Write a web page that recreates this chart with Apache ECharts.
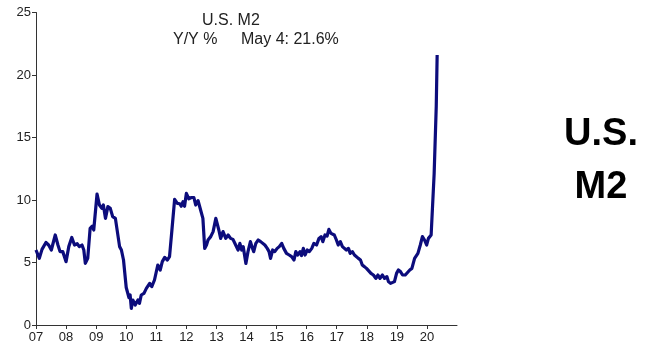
<!DOCTYPE html>
<html>
<head>
<meta charset="utf-8">
<script src="https://cdn.jsdelivr.net/npm/echarts@6/dist/echarts.min.js"></script>
<style>
html,body{margin:0;padding:0;background:#fff;}
#c{width:658px;height:360px;}
</style>
</head>
<body>
<div id="c"></div>
<script>
// Decimal-year dates and M2 Y/Y % values
var years = [
2007.00,2007.11,2007.20,2007.33,2007.42,2007.51,2007.64,2007.73,2007.80,2007.89,
2008.00,2008.09,2008.19,2008.28,2008.37,2008.44,2008.53,2008.59,2008.64,2008.72,2008.80,2008.87,2008.92,
2009.03,2009.11,2009.19,2009.24,2009.31,2009.39,2009.47,2009.55,2009.64,2009.70,2009.78,2009.84,2009.91,
2010.00,2010.09,2010.13,2010.17,2010.22,2010.30,2010.39,2010.44,2010.50,2010.59,2010.67,2010.78,2010.85,2010.94,
2011.05,2011.13,2011.20,2011.28,2011.37,2011.44,2011.52,2011.61,2011.70,2011.78,2011.83,2011.89,2011.94,
2012.00,2012.08,2012.17,2012.25,2012.31,2012.39,2012.44,2012.55,2012.61,2012.67,2012.72,2012.81,2012.89,2012.93,2012.98,
2013.08,2013.14,2013.22,2013.31,2013.39,2013.47,2013.55,2013.64,2013.72,2013.78,2013.84,2013.89,2013.98,
2014.05,2014.13,2014.20,2014.24,2014.31,2014.39,2014.47,2014.53,2014.61,2014.69,2014.75,2014.80,2014.87,2014.94,
2015.02,2015.09,2015.17,2015.24,2015.33,2015.42,2015.50,2015.58,2015.64,2015.70,2015.78,2015.83,2015.89,2015.95,
2016.02,2016.09,2016.17,2016.24,2016.33,2016.41,2016.48,2016.54,2016.61,2016.68,2016.74,2016.81,2016.85,2016.92,2016.99,
2017.05,2017.12,2017.19,2017.25,2017.32,2017.39,2017.45,2017.52,2017.59,2017.65,2017.72,2017.79,2017.85,2017.92,2017.99,
2018.05,2018.14,2018.22,2018.30,2018.37,2018.44,2018.52,2018.59,2018.67,2018.72,2018.79,2018.85,2018.92,2018.99,
2019.05,2019.12,2019.19,2019.28,2019.34,2019.43,2019.50,2019.59,2019.63,2019.70,2019.78,2019.85,2019.92,2019.99,
2020.05,2020.14,2020.19,2020.24,2020.31,2020.34
];
var m2yoy = [
6.0,5.33,6.05,6.6,6.4,6.0,7.2,6.4,5.87,5.87,
5.07,6.27,7.0,6.4,6.5,6.27,6.4,6.0,4.93,5.33,7.73,7.9,7.6,
10.48,9.6,9.33,9.6,8.53,9.47,9.33,8.67,8.53,8.53,6.27,6.0,5.2,
3.0,2.2,2.4,1.33,2.0,1.6,2.0,1.73,2.4,2.53,2.93,3.33,3.07,3.6,
4.8,4.4,5.07,5.41,5.2,5.47,7.6,10.05,9.73,9.7,9.5,9.87,9.5,
10.53,10.1,10.2,10.2,9.6,9.95,9.5,8.53,6.13,6.4,6.8,7.07,7.47,7.33,8.53,
7.6,6.93,7.47,6.93,7.2,6.93,6.85,6.4,6.0,6.53,6.0,6.27,4.93,
5.87,6.67,6.13,5.87,6.53,6.8,6.67,6.53,6.4,6.13,5.87,5.33,6.0,5.87,
6.13,6.27,6.53,6.13,5.73,5.6,5.47,5.2,5.87,5.6,5.87,5.55,6.13,5.6,
6.0,5.87,6.13,6.53,6.4,6.93,7.07,6.67,7.2,7.12,7.65,7.33,7.47,7.2,6.8,
6.4,6.67,6.27,6.4,6.0,6.13,5.73,5.87,5.6,5.47,5.33,5.2,4.8,4.67,4.53,
4.45,4.13,4.0,3.73,4.0,3.73,4.0,3.73,3.87,3.47,3.33,3.2,3.47,4.13,
4.4,4.27,4.0,4.0,4.13,4.4,4.53,5.33,5.2,5.73,6.4,7.07,6.8,6.4,
6.93,7.2,7.2,12.1,17.5,21.6
];
var xTickYears = [2007,2008,2009,2010,2011,2012,2013,2014,2015,2016,2017,2018,2019,2020];
var yTicks = [0,5,10,15,20,25];
var titleLine1 = 'U.S. M2';
var titleLeft = 'Y/Y %';
var titleRight = 'May 4: 21.6%';
var sideLabel = 'U.S.\nM2';

var seriesData = years.map(function (y, i) { return [y, m2yoy[i]]; });

var chart = echarts.init(document.getElementById('c'), null, {renderer: 'canvas'});
var axisColor = '#333';
var font = 'Liberation Sans, Arial, Helvetica, sans-serif';
chart.setOption({
  animation: false,
  backgroundColor: '#fff',
  textStyle: {fontFamily: font},
  grid: {left: 36, right: 201, top: 12.5, bottom: 35, containLabel: false},
  xAxis: {
    type: 'value', min: 2007, max: 2021,
    axisLine: {show: true, lineStyle: {color: axisColor, width: 1}},
    axisTick: {show: true, length: 4, inside: false, customValues: xTickYears, lineStyle: {color: axisColor}},
    axisLabel: {customValues: xTickYears, margin: 6, color: '#222', fontSize: 13, fontFamily: font,
      formatter: function (v) { var s = String(Math.round(v) % 100); return s.length < 2 ? '0' + s : s; }},
    splitLine: {show: false}
  },
  yAxis: {
    type: 'value', min: yTicks[0], max: yTicks[yTicks.length - 1], interval: 5,
    axisLine: {show: true, lineStyle: {color: axisColor, width: 1}},
    axisTick: {show: true, length: 4, lineStyle: {color: axisColor}},
    axisLabel: {margin: 5, color: '#222', fontSize: 13, fontFamily: font},
    splitLine: {show: false}
  },
  series: [{
    type: 'line', data: seriesData, showSymbol: false, symbol: 'none',
    lineStyle: {color: '#0c0c7c', width: 3.2, join: 'round'},
    clip: false
  }],
  graphic: [
    {type: 'text', left: 202, top: 13, style: {text: titleLine1, font: '16px ' + font, fill: '#222'}},
    {type: 'text', left: 173, top: 32, style: {text: titleLeft, font: '16px ' + font, fill: '#222'}},
    {type: 'text', left: 241, top: 32, style: {text: titleRight, font: '16px ' + font, fill: '#222'}},
    {type: 'text', x: 601, y: 161, style: {text: sideLabel, font: 'bold 38px ' + font, fill: '#000', align: 'center', verticalAlign: 'middle', lineHeight: 53}}
  ]
});
</script>
</body>
</html>
